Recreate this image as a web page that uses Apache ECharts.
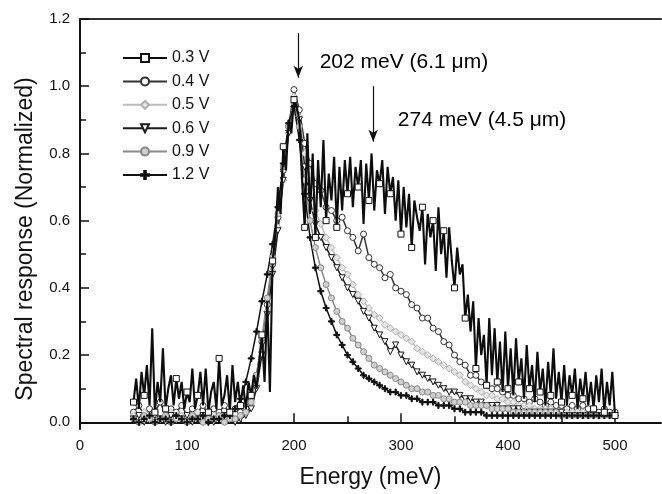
<!DOCTYPE html>
<html>
<head>
<meta charset="utf-8">
<script src="https://cdn.jsdelivr.net/npm/echarts@6/dist/echarts.min.js"></script>
<style>
  html, body { margin: 0; background: #fff; }
  #chart { width: 662px; height: 494px; }
</style>
</head>
<body>
<div id="chart"></div>
<script>
// photon energy (meV), 5 meV grid for the smooth bias curves
const energy = [
  50, 55, 60, 65, 70, 75, 80, 85, 90, 95,
  100, 105, 110, 115, 120, 125, 130, 135, 140, 145,
  150, 155, 160, 165, 170, 175, 180, 185, 190, 195,
  200, 205, 210, 215, 220, 225, 230, 235, 240, 245,
  250, 255, 260, 265, 270, 275, 280, 285, 290, 295,
  300, 305, 310, 315, 320, 325, 330, 335, 340, 345,
  350, 355, 360, 365, 370, 375, 380, 385, 390, 395,
  400, 405, 410, 415, 420, 425, 430, 435, 440, 445,
  450, 455, 460, 465, 470, 475, 480, 485, 490, 495, 500
];

// 2.5 meV grid for the noisy 0.3 V trace
const energyFine = [
  50, 52.5, 55, 57.5, 60, 62.5, 65, 67.5, 70, 72.5, 75, 77.5, 80, 82.5, 85, 87.5, 90, 92.5, 95, 97.5, 100,
  102.5, 105, 107.5, 110, 112.5, 115, 117.5, 120, 122.5, 125, 127.5, 130, 132.5, 135, 137.5, 140, 142.5, 145, 147.5, 150,
  152.5, 155, 157.5, 160, 162.5, 165, 167.5, 170, 172.5, 175, 177.5, 180, 182.5, 185, 187.5, 190, 192.5, 195, 197.5, 200,
  202.5, 205, 207.5, 210, 212.5, 215, 217.5, 220, 222.5, 225, 227.5, 230, 232.5, 235, 237.5, 240, 242.5, 245, 247.5, 250,
  252.5, 255, 257.5, 260, 262.5, 265, 267.5, 270, 272.5, 275, 277.5, 280, 282.5, 285, 287.5, 290, 292.5, 295, 297.5, 300,
  302.5, 305, 307.5, 310, 312.5, 315, 317.5, 320, 322.5, 325, 327.5, 330, 332.5, 335, 337.5, 340, 342.5, 345, 347.5, 350,
  352.5, 355, 357.5, 360, 362.5, 365, 367.5, 370, 372.5, 375, 377.5, 380, 382.5, 385, 387.5, 390, 392.5, 395, 397.5, 400,
  402.5, 405, 407.5, 410, 412.5, 415, 417.5, 420, 422.5, 425, 427.5, 430, 432.5, 435, 437.5, 440, 442.5, 445, 447.5, 450,
  452.5, 455, 457.5, 460, 462.5, 465, 467.5, 470, 472.5, 475, 477.5, 480, 482.5, 485, 487.5, 490, 492.5, 495, 497.5, 500
];

const v03 = [
  0.06, 0.13, 0.04, 0.15, 0.08, 0.17, 0.05, 0.28, 0.03, 0.12, 0.06, 0.22, 0.04, 0.10, 0.14, 0.05, 0.13, 0.07, 0.12, 0.04, 0.09,
  0.06, 0.16, 0.04, 0.08, 0.15, 0.05, 0.16, 0.03, 0.09, 0.12, 0.04, 0.19, 0.05, 0.08, 0.14, 0.03, 0.17, 0.06, 0.12, 0.05,
  0.11, 0.04, 0.12, 0.08, 0.14, 0.10, 0.18, 0.26, 0.12, 0.36, 0.09, 0.48, 0.55, 0.70, 0.62, 0.82, 0.75, 0.90, 0.86, 0.96,
  0.94, 0.90, 0.72, 0.58, 0.86, 0.62, 0.80, 0.55, 0.78, 0.64, 0.84, 0.60, 0.74, 0.66, 0.79, 0.58, 0.76, 0.63, 0.78, 0.68,
  0.79, 0.64, 0.76, 0.70, 0.78, 0.59, 0.77, 0.66, 0.80, 0.63, 0.75, 0.71, 0.78, 0.62, 0.76, 0.68, 0.73, 0.60, 0.72, 0.56,
  0.70, 0.58, 0.68, 0.52, 0.66, 0.61, 0.57, 0.64, 0.47, 0.62, 0.55, 0.60, 0.45, 0.64, 0.50, 0.57, 0.43, 0.58, 0.48, 0.40,
  0.52, 0.44, 0.47, 0.31, 0.38, 0.27, 0.36, 0.16, 0.31, 0.20, 0.26, 0.11, 0.31, 0.14, 0.28, 0.12, 0.24, 0.09, 0.27, 0.10,
  0.22, 0.08, 0.25, 0.12, 0.19, 0.07, 0.23, 0.10, 0.17, 0.06, 0.21, 0.09, 0.16, 0.05, 0.18, 0.08, 0.22, 0.07, 0.15, 0.06,
  0.17, 0.05, 0.14, 0.08, 0.16, 0.04, 0.13, 0.07, 0.15, 0.05, 0.12, 0.04, 0.14, 0.06, 0.16, 0.03, 0.12, 0.05, 0.15, 0.02
];

const v04 = [
  0.03, 0.05, 0.02, 0.04, 0.03, 0.06, 0.02, 0.04, 0.03, 0.05,
  0.02, 0.04, 0.03, 0.05, 0.02, 0.04, 0.03, 0.05, 0.02, 0.04,
  0.03, 0.04, 0.07, 0.14, 0.24, 0.35, 0.47, 0.61, 0.75, 0.88,
  0.99, 0.93, 0.83, 0.77, 0.71, 0.69, 0.64, 0.63, 0.60, 0.61,
  0.57, 0.55, 0.51, 0.56, 0.49, 0.47, 0.46, 0.43, 0.44, 0.40,
  0.39, 0.38, 0.35, 0.34, 0.31, 0.31, 0.28, 0.27, 0.24, 0.23,
  0.20, 0.18, 0.17, 0.14, 0.14, 0.12, 0.11, 0.10, 0.10, 0.09,
  0.08, 0.08, 0.07, 0.07, 0.06, 0.07, 0.06, 0.05, 0.06, 0.05,
  0.05, 0.04, 0.05, 0.04, 0.05, 0.04, 0.04, 0.03, 0.04, 0.03, 0.03
];

const v05 = [
  0.02, 0.01, 0.03, 0.01, 0.02, 0.01, 0.02, 0.03, 0.01, 0.02,
  0.02, 0.01, 0.03, 0.02, 0.01, 0.02, 0.02, 0.01, 0.02, 0.01,
  0.02, 0.03, 0.05, 0.11, 0.21, 0.33, 0.45, 0.58, 0.72, 0.86,
  0.97, 0.91, 0.80, 0.70, 0.63, 0.59, 0.55, 0.52, 0.49, 0.46,
  0.44, 0.41, 0.38, 0.36, 0.34, 0.32, 0.31, 0.29, 0.28, 0.27,
  0.26, 0.25, 0.24, 0.22, 0.21, 0.20, 0.19, 0.18, 0.17, 0.16,
  0.15, 0.14, 0.12, 0.11, 0.10, 0.09, 0.08, 0.08, 0.07, 0.07,
  0.06, 0.06, 0.05, 0.05, 0.05, 0.04, 0.04, 0.04, 0.04, 0.03,
  0.03, 0.03, 0.03, 0.03, 0.03, 0.02, 0.02, 0.02, 0.02, 0.02, 0.02
];

const v06 = [
  0.01, 0.02, 0.00, 0.01, 0.02, 0.01, 0.00, 0.02, 0.01, 0.01,
  0.02, 0.00, 0.01, 0.02, 0.01, 0.00, 0.01, 0.02, 0.01, 0.00,
  0.01, 0.02, 0.04, 0.10, 0.20, 0.32, 0.44, 0.57, 0.72, 0.86,
  0.96, 0.90, 0.76, 0.66, 0.59, 0.55, 0.52, 0.49, 0.46, 0.43,
  0.40, 0.38, 0.36, 0.33, 0.31, 0.28, 0.26, 0.24, 0.21, 0.23,
  0.20, 0.18, 0.17, 0.15, 0.14, 0.13, 0.12, 0.11, 0.10, 0.09,
  0.09, 0.08, 0.07, 0.07, 0.06, 0.06, 0.05, 0.05, 0.05, 0.04,
  0.04, 0.04, 0.04, 0.03, 0.03, 0.03, 0.03, 0.03, 0.03, 0.03,
  0.03, 0.02, 0.02, 0.02, 0.02, 0.02, 0.02, 0.02, 0.02, 0.02, 0.02
];

const v09 = [
  0.01, 0.00, 0.02, 0.01, 0.00, 0.01, 0.02, 0.00, 0.01, 0.01,
  0.00, 0.02, 0.01, 0.00, 0.01, 0.01, 0.02, 0.00, 0.01, 0.01,
  0.02, 0.03, 0.06, 0.14, 0.25, 0.37, 0.49, 0.62, 0.76, 0.88,
  0.95, 0.88, 0.72, 0.60, 0.52, 0.46, 0.41, 0.37, 0.33, 0.30,
  0.28, 0.25, 0.23, 0.21, 0.19, 0.17, 0.16, 0.15, 0.14, 0.13,
  0.12, 0.11, 0.10, 0.10, 0.09, 0.09, 0.08, 0.08, 0.07, 0.07,
  0.06, 0.06, 0.06, 0.05, 0.05, 0.05, 0.05, 0.04, 0.04, 0.04,
  0.04, 0.03, 0.03, 0.03, 0.03, 0.03, 0.03, 0.03, 0.03, 0.03,
  0.02, 0.02, 0.02, 0.02, 0.02, 0.02, 0.02, 0.02, 0.02, 0.02, 0.02
];

const v12 = [
  0.01, 0.00, 0.01, 0.02, 0.00, 0.01, 0.01, 0.00, 0.02, 0.01,
  0.00, 0.01, 0.01, 0.02, 0.00, 0.01, 0.01, 0.02, 0.02, 0.04,
  0.07, 0.12, 0.19, 0.27, 0.36, 0.44, 0.53, 0.64, 0.77, 0.89,
  0.94, 0.84, 0.68, 0.55, 0.46, 0.39, 0.34, 0.30, 0.26, 0.23,
  0.20, 0.18, 0.16, 0.14, 0.13, 0.12, 0.11, 0.10, 0.09, 0.09,
  0.08, 0.08, 0.07, 0.07, 0.06, 0.06, 0.06, 0.05, 0.05, 0.05,
  0.04, 0.04, 0.03, 0.03, 0.03, 0.03, 0.02, 0.02, 0.02, 0.02,
  0.02, 0.02, 0.02, 0.02, 0.02, 0.02, 0.02, 0.02, 0.02, 0.02,
  0.02, 0.02, 0.02, 0.02, 0.02, 0.02, 0.02, 0.02, 0.02, 0.02, 0.02
];

const seriesNames = ['0.3 V', '0.4 V', '0.5 V', '0.6 V', '0.9 V', '1.2 V'];
const seriesValues = [v03, v04, v05, v06, v09, v12];
const seriesEnergy = [energyFine, energy, energy, energy, energy, energy];

const xTicks = [0, 100, 200, 300, 400, 500];
const xMinorTicks = [50, 150, 250, 350, 450];
const yTicks = [0, 0.2, 0.4, 0.6, 0.8, 1.0, 1.2];
const yMinorTicks = [0.1, 0.3, 0.5, 0.7, 0.9, 1.1];

// peak markers: arrow energy, arrow start, arrow tip
const peakEnergy = [204, 274];
const arrowFrom = [1.158, 1.0];
const arrowTo = [1.025, 0.835];
const noteText = ['202 meV (6.1 \u03bcm)', '274 meV (4.5 \u03bcm)'];
const noteX = [224, 297];
const noteY = [1.072, 0.9];

const font = '"Liberation Sans", Arial, Helvetica, sans-serif';
const plus = 'path://M4,0 L6,0 L6,4 L10,4 L10,6 L6,6 L6,10 L4,10 L4,6 L0,6 L0,4 L4,4 Z';

const looks = [
  { line: '#0d0d0d', symbol: 'rect', fill: '#fff', border: '#111', size: 6, width: 2.1, every: 4 },
  { line: '#333', symbol: 'circle', fill: '#fff', border: '#333', size: 6, width: 1.5 },
  { line: '#bdbdbd', symbol: 'diamond', fill: '#e6e6e6', border: '#b0b0b0', size: 7, width: 1.5 },
  { line: '#1a1a1a', symbol: 'triangle', fill: '#fff', border: '#1a1a1a', size: 6, width: 1.5, rotate: 180 },
  { line: '#8a8a8a', symbol: 'circle', fill: '#d0d0d0', border: '#888', size: 6, width: 1.5 },
  { line: '#111', symbol: plus, fill: '#111', border: '#111', size: 6, width: 1.5 }
];

const lineSeries = seriesNames.map((name, k) => {
  const s = looks[k];
  const xs = seriesEnergy[k];
  return {
    name,
    type: 'line',
    // sparse markers on the dense trace: hide the symbol on most points
    data: xs.map((e, i) =>
      !s.every || i % s.every === 0 ? [e, seriesValues[k][i]] : { value: [e, seriesValues[k][i]], symbol: 'none' }
    ),
    showAllSymbol: true,
    symbol: s.symbol,
    symbolSize: s.size,
    symbolRotate: s.rotate || 0,
    lineStyle: { color: s.line, width: s.width },
    itemStyle: { color: s.fill, borderColor: s.border, borderWidth: 1 },
    z: k === 0 ? 3 : 2,
    emphasis: { disabled: true },
    animation: false
  };
});

const noteSeries = {
  type: 'scatter',
  data: noteX.map((x, i) => [x, noteY[i], noteText[i]]),
  symbolSize: 0,
  silent: true,
  itemStyle: { opacity: 1 },
  label: {
    show: true,
    position: 'right',
    distance: 0,
    formatter: (p) => p.value[2],
    color: '#000',
    opacity: 1,
    fontSize: 21,
    fontFamily: font
  },
  markLine: {
    silent: true,
    symbol: ['none', 'arrow'],
    symbolSize: [7, 12],
    label: { show: false },
    lineStyle: { color: '#111', width: 1.2, type: 'solid' },
    data: peakEnergy.map((e, i) => [
      { coord: [e, arrowFrom[i]] },
      { coord: [e, arrowTo[i]] }
    ])
  },
  animation: false
};

const chart = echarts.init(document.getElementById('chart'));
chart.setOption({
  backgroundColor: '#fff',
  animation: false,
  textStyle: { fontFamily: font },
  grid: { left: 80, right: 1, top: 19, bottom: 64 },
  legend: {
    data: seriesNames,
    orient: 'vertical',
    left: 117,
    top: 45,
    itemWidth: 44,
    itemHeight: 10,
    itemGap: 7.4,
    textStyle: { fontSize: 16, color: '#111', lineHeight: 16, fontFamily: font },
    selectedMode: false
  },
  xAxis: [
    {
      type: 'value',
      min: 0,
      max: 543,
      name: 'Energy (meV)',
      nameLocation: 'middle',
      nameGap: 37,
      nameTextStyle: { fontSize: 23, color: '#111', fontFamily: font },
      axisLine: { lineStyle: { color: '#111', width: 2 } },
      axisTick: { inside: true, length: 9, customValues: xTicks, lineStyle: { color: '#111', width: 1.5 } },
      axisLabel: { customValues: xTicks, fontSize: 15, color: '#111', margin: 9 },
      splitLine: { show: false }
    },
    {
      type: 'value',
      min: 0,
      max: 543,
      position: 'bottom',
      axisLine: { show: false },
      axisTick: { inside: true, length: 6, customValues: xMinorTicks, lineStyle: { color: '#111', width: 1.5 } },
      axisLabel: { show: false },
      splitLine: { show: false }
    },
    {
      type: 'value',
      min: 0,
      max: 543,
      position: 'top',
      axisLine: { lineStyle: { color: '#333', width: 2 } },
      axisTick: { show: false },
      axisLabel: { show: false },
      splitLine: { show: false }
    }
  ],
  yAxis: [
    {
      type: 'value',
      min: -0.02,
      max: 1.2,
      name: 'Spectral response (Normalized)',
      nameLocation: 'middle',
      nameGap: 43,
      nameTextStyle: { fontSize: 23, color: '#111', fontFamily: font, padding: [0, 30, 0, 0] },
      axisLine: { lineStyle: { color: '#111', width: 2 } },
      axisTick: { inside: true, length: 9, customValues: yTicks, lineStyle: { color: '#111', width: 1.5 } },
      axisLabel: {
        customValues: yTicks,
        fontSize: 15,
        color: '#111',
        margin: 10,
        formatter: (v) => v.toFixed(1)
      },
      splitLine: { show: false }
    },
    {
      type: 'value',
      min: -0.02,
      max: 1.2,
      position: 'left',
      axisLine: { show: false },
      axisTick: { inside: true, length: 6, customValues: yMinorTicks, lineStyle: { color: '#111', width: 1.5 } },
      axisLabel: { show: false },
      splitLine: { show: false }
    }
  ],
  series: [...lineSeries, noteSeries]
});
</script>
</body>
</html>
